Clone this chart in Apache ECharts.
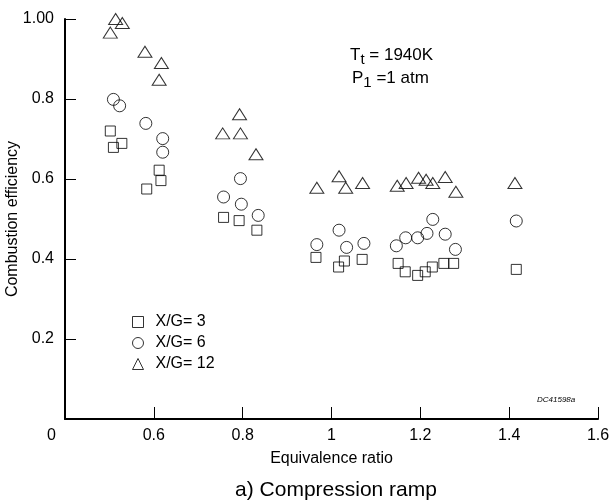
<!DOCTYPE html>
<html>
<head>
<meta charset="utf-8">
<script src="https://cdn.jsdelivr.net/npm/echarts@6/dist/echarts.min.js"></script>
<style>html,body{margin:0;padding:0;background:#fff;}#c{width:615px;height:504px;}</style>
</head>
<body>
<div id="c"></div>
<script>
// Data
const seriesNames = ['X/G= 3', 'X/G= 6', 'X/G= 12'];
const xg3 = [
  [0.502, 0.720], [0.509, 0.679], [0.528, 0.689],
  [0.584, 0.575], [0.612, 0.622], [0.616, 0.596],
  [0.757, 0.504], [0.792, 0.496], [0.832, 0.472],
  [0.965, 0.404], [1.016, 0.380], [1.029, 0.395], [1.069, 0.399],
  [1.150, 0.389], [1.166, 0.368], [1.194, 0.359], [1.211, 0.368],
  [1.227, 0.380], [1.253, 0.389], [1.275, 0.389],
  [1.416, 0.374]
];
const xg6 = [
  [0.509, 0.799], [0.523, 0.783],
  [0.582, 0.739], [0.620, 0.701], [0.620, 0.667],
  [0.757, 0.555], [0.795, 0.601], [0.797, 0.537], [0.835, 0.509],
  [0.967, 0.436], [1.017, 0.472], [1.034, 0.429], [1.073, 0.439],
  [1.146, 0.433], [1.167, 0.453], [1.194, 0.453], [1.215, 0.464],
  [1.228, 0.499], [1.256, 0.462], [1.279, 0.424],
  [1.416, 0.495]
];
const xg12 = [
  [0.502, 0.966], [0.514, 1.000], [0.529, 0.990],
  [0.580, 0.918], [0.617, 0.890], [0.612, 0.848],
  [0.755, 0.714], [0.793, 0.762], [0.795, 0.714], [0.830, 0.662],
  [0.967, 0.578], [1.017, 0.607], [1.032, 0.578], [1.070, 0.590],
  [1.148, 0.583], [1.168, 0.590], [1.196, 0.603], [1.213, 0.598],
  [1.228, 0.590], [1.256, 0.605], [1.280, 0.568],
  [1.413, 0.590]
];
const xTickLabels = ['0', '0.6', '0.8', '1', '1.2', '1.4', '1.6'];
const yTickLabels = ['', '0.2', '0.4', '0.6', '0.8', '1.00'];

const FONT = '"Liberation Sans", Arial, Helvetica, sans-serif';
const chart = echarts.init(document.getElementById('c'), null, {renderer: 'canvas'});
const hollow = {color: 'rgba(255,255,255,0)', borderColor: '#000', borderWidth: 1};
const mk = (name, data, symbol, size) => ({
  name, type: 'scatter', data, symbol, symbolSize: size,
  itemStyle: hollow,
  emphasis: {disabled: true}, z: 3
});
chart.setOption({
  animation: false,
  backgroundColor: '#fff',
  textStyle: {fontFamily: FONT},
  grid: {left: 65, right: 17, top: 19, bottom: 85, containLabel: false, outerBoundsMode: 'none'},
  title: {
    text: 'a) Compression ramp', left: 331, textAlign: 'center', top: 475,
    textStyle: {fontFamily: FONT, fontSize: 21, fontWeight: 'normal', color: '#000'}
  },
  legend: {
    orient: 'vertical', left: 127, top: 309,
    itemWidth: 11, itemHeight: 11, itemGap: 5,
    textStyle: {fontFamily: FONT, fontSize: 16, color: '#000', padding: [0, 0, 0, 7]},
    selectedMode: false,
    data: [
      {name: seriesNames[0], icon: 'rect', itemStyle: hollow},
      {name: seriesNames[1], icon: 'circle', itemStyle: hollow},
      {name: seriesNames[2], icon: 'triangle', itemStyle: hollow}
    ]
  },
  xAxis: {
    type: 'value', min: 0.4, max: 1.6, interval: 0.2,
    name: 'Equivalence ratio', nameLocation: 'middle', nameGap: 32, nameMoveOverlap: false,
    nameTextStyle: {fontFamily: FONT, fontSize: 16, color: '#000'},
    axisLine: {lineStyle: {color: '#000', width: 2}},
    axisTick: {inside: true, length: 12, lineStyle: {color: '#000', width: 1}},
    splitLine: {show: false},
    axisLabel: {
      margin: 9, color: '#000', fontFamily: FONT, fontSize: 16,
      formatter: v => {
        const i = Math.round((v - 0.4) / 0.2);
        return i === 0 ? '{z|' + xTickLabels[0] + '}' : xTickLabels[i];
      },
      rich: {z: {fontFamily: FONT, fontSize: 16, color: '#000', padding: [0, 27, 0, 0]}}
    }
  },
  yAxis: {
    type: 'value', min: 0, max: 1, interval: 0.2,
    name: 'Combustion efficiency', nameLocation: 'middle', nameGap: 44, nameRotate: 90,
    nameMoveOverlap: false,
    nameTextStyle: {fontFamily: FONT, fontSize: 16, color: '#000'},
    axisLine: {lineStyle: {color: '#000', width: 2}},
    axisTick: {inside: true, length: 11, lineStyle: {color: '#000', width: 1}},
    splitLine: {show: false},
    axisLabel: {
      margin: 11, color: '#000', fontFamily: FONT, fontSize: 16,
      formatter: v => yTickLabels[Math.round(v / 0.2)]
    }
  },
  graphic: [
    {
      type: 'text', left: 350, top: 47,
      style: {
        rich: {
          a: {fontFamily: FONT, fontSize: 17, fill: '#000'},
          s: {fontFamily: FONT, fontSize: 15, fill: '#000', padding: [9, 0, 0, 0]}
        },
        text: '{a|T}{s|t}{a| = 1940K}'
      }
    },
    {
      type: 'text', left: 352, top: 70,
      style: {
        rich: {
          a: {fontFamily: FONT, fontSize: 17, fill: '#000'},
          s: {fontFamily: FONT, fontSize: 15, fill: '#000', padding: [9, 0, 0, 0]}
        },
        text: '{a|P}{s|1}{a| =1 atm}'
      }
    },
    {
      type: 'text', left: 537, top: 396,
      style: {text: 'DC41598a', fontFamily: FONT, fontSize: 8, fontStyle: 'italic', fill: '#000'}
    }
  ],
  series: [
    mk(seriesNames[0], xg3, 'rect', 10),
    mk(seriesNames[1], xg6, 'circle', 12),
    mk(seriesNames[2], xg12, 'triangle', [14, 11])
  ]
});
</script>
</body>
</html>
